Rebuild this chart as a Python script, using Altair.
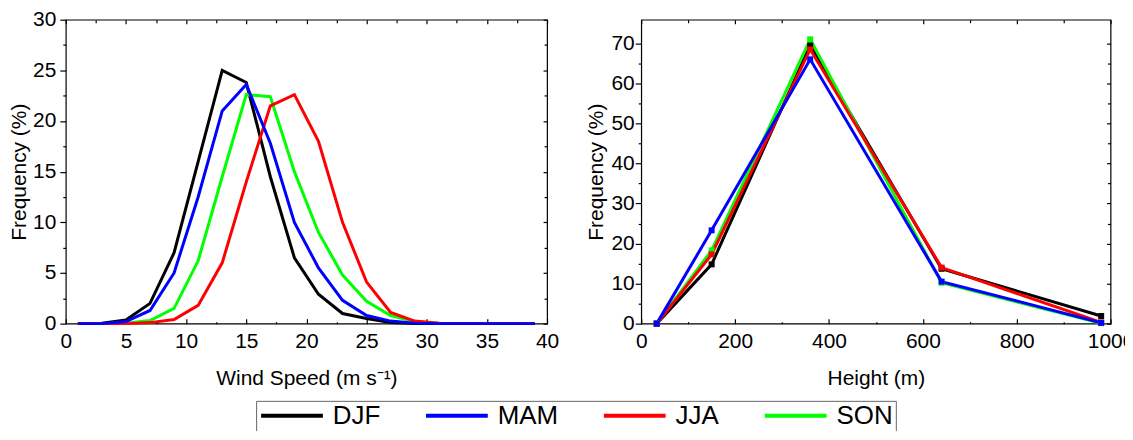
import altair as alt
import pandas as pd

# ---------------- data ----------------
SEASONS = ["DJF", "MAM", "JJA", "SON"]
COLORS = ["#000000", "#0000FF", "#FF0000", "#00FF00"]
DRAW_ORDER = ["DJF", "SON", "JJA", "MAM"]

WIND_SPEED = [1, 3, 5, 7, 9, 11, 13, 15, 17, 19, 21, 23, 25, 27, 29, 31, 33, 35, 37, 39]
WS_DJF = [0, 0.05, 0.35, 2.0, 7.0, 16.0, 25.0, 23.8, 14.5, 6.5, 2.9, 1.0, 0.5, 0.1, 0, 0, 0, 0, 0, 0]
WS_MAM = [0, 0, 0.2, 1.3, 5.0, 12.5, 21.0, 23.6, 17.8, 10.0, 5.5, 2.3, 0.8, 0.25, 0.05, 0, 0, 0, 0, 0]
WS_JJA = [0, 0, 0, 0.1, 0.4, 1.8, 6.0, 14.0, 21.5, 22.6, 18.0, 10.0, 4.1, 1.1, 0.25, 0.05, 0.02, 0, 0, 0]
WS_SON = [0, 0, 0.05, 0.3, 1.5, 6.2, 14.5, 22.6, 22.4, 15.0, 9.0, 4.8, 2.2, 0.8, 0.2, 0.05, 0, 0, 0, 0]

HEIGHT = [33, 150, 360, 640, 980]
H_DJF = [0, 14.8, 69.5, 13.7, 1.9]
H_MAM = [0, 23.3, 66.0, 10.5, 0.2]
H_JJA = [0, 17.3, 68.5, 14.0, 0.3]
H_SON = [0, 18.3, 71.0, 10.2, 0.1]

# tick positions
WS_X_MAJOR = [0, 5, 10, 15, 20, 25, 30, 35, 40]
WS_X_MINOR = [2.5, 7.5, 12.5, 17.5, 22.5, 27.5, 32.5, 37.5]
WS_Y_MAJOR = [0, 5, 10, 15, 20, 25, 30]
WS_Y_MINOR = [2.5, 7.5, 12.5, 17.5, 22.5, 27.5]
H_X_MAJOR = [0, 200, 400, 600, 800, 1000]
H_X_MINOR = [100, 300, 500, 700, 900]
H_Y_MAJOR = [0, 10, 20, 30, 40, 50, 60, 70]
H_Y_MINOR = [5, 15, 25, 35, 45, 55, 65]

ws_series = {"DJF": WS_DJF, "MAM": WS_MAM, "JJA": WS_JJA, "SON": WS_SON}
h_series = {"DJF": H_DJF, "MAM": H_MAM, "JJA": H_JJA, "SON": H_SON}

ws_rows = []
h_rows = []
for s in DRAW_ORDER:
    for x, v in zip(WIND_SPEED, ws_series[s]):
        ws_rows.append({"season": s, "x": x, "freq": v})
    for x, v in zip(HEIGHT, h_series[s]):
        h_rows.append({"season": s, "x": x, "freq": v})
ws_df = pd.DataFrame(ws_rows)
h_df = pd.DataFrame(h_rows)

FONT = "Liberation Sans"

LEGEND = alt.Legend(
    orient="none", legendX=191, legendY=382.5, direction="horizontal", title=None,
    symbolType="stroke", symbolSize=3844, symbolStrokeWidth=4,
    labelFontSize=26, labelFont=FONT, labelColor="black", labelOffset=8,
    columnPadding=43.5, clipHeight=24, padding=3, strokeColor="#666666",
)
COLOR = alt.Color("season:N", scale=alt.Scale(domain=SEASONS, range=COLORS), legend=LEGEND)


def tick_axis(orient, values, size, inward):
    kw = dict(orient=orient, values=values, labels=False, title=None, domain=False,
              tickSize=size, grid=False)
    if inward:
        kw["offset"] = -size
    return alt.Axis(**kw)


def panel(df, xdom, ydom, xmaj, xmin, ymaj, ymin, xtitle, ytitle, w, h,
          ylabpad, ytitlepad, points):
    xs = alt.Scale(domain=xdom, nice=False, zero=False)
    ys = alt.Scale(domain=ydom, nice=False, zero=False)
    base = alt.Chart(df)
    lines = base.mark_line(strokeWidth=3).encode(
        x=alt.X("x:Q", scale=xs, axis=alt.Axis(
            orient="bottom", values=xmaj, title=xtitle, tickSize=5, offset=-5,
            domain=False, labelPadding=7, titlePadding=16, labelFlush=False,
            labelOverlap=False, grid=False, format="d")),
        y=alt.Y("freq:Q", scale=ys, axis=alt.Axis(
            orient="left", values=ymaj, title=ytitle, tickSize=6, domain=False,
            labelPadding=ylabpad, titlePadding=ytitlepad, labelOverlap=False, grid=False)),
        color=COLOR,
    )
    layers = [lines]
    if points:
        layers.append(base.mark_point(shape="square", filled=True, size=36, opacity=1).encode(
            x=alt.X("x:Q", scale=xs, axis=None),
            y=alt.Y("freq:Q", scale=ys, axis=None),
            color=COLOR,
        ))
    layers.append(base.mark_point(opacity=0).encode(
        x=alt.X("x:Q", scale=xs, axis=tick_axis("bottom", xmin, 2, True)),
        y=alt.Y("freq:Q", scale=ys, axis=tick_axis("left", ymin, 3, False)),
    ))
    layers.append(base.mark_point(opacity=0).encode(
        x=alt.X("x:Q", scale=xs, axis=tick_axis("top", xmaj, 4, True)),
        y=alt.Y("freq:Q", scale=ys, axis=tick_axis("right", ymaj, 4, True)),
    ))
    layers.append(base.mark_point(opacity=0).encode(
        x=alt.X("x:Q", scale=xs, axis=tick_axis("top", xmin, 3, True)),
        y=alt.Y("freq:Q", scale=ys, axis=tick_axis("right", ymin, 3, True)),
    ))
    return alt.layer(*layers).resolve_axis(x="independent", y="independent").properties(
        width=w, height=h)


left = panel(ws_df, [0, 40], [0, 30], WS_X_MAJOR, WS_X_MINOR, WS_Y_MAJOR, WS_Y_MINOR,
             "Wind Speed (m s\u207b\u00b9)", "Frequency (%)", 483, 305, 4, 3, False)
right = panel(h_df, [0, 1000], [0, 75.9], H_X_MAJOR, H_X_MINOR, H_Y_MAJOR, H_Y_MINOR,
              "Height (m)", "Frequency (%)", 471, 305, 1, 5, True)

chart = alt.hconcat(left, right, spacing=94.5, bounds="flush").properties(
    padding={"left": 0, "top": -1, "right": -10, "bottom": -2}
).configure_view(
    stroke="black", strokeWidth=1.2
).configure_axis(
    labelFont=FONT, titleFont=FONT, labelFontSize=21, titleFontSize=21,
    titleFontWeight="normal", labelColor="black", titleColor="black",
    tickColor="black", tickWidth=1.2,
).configure_legend(
    strokeWidth=1
)

chart.save("out.html", embed_options={"renderer": "svg", "actions": False})
